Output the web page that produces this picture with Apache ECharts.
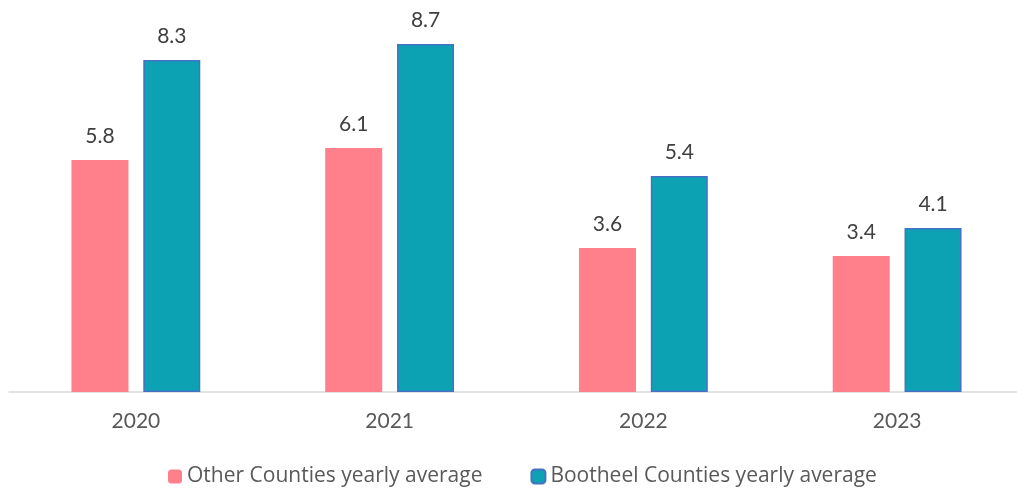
<!DOCTYPE html>
<html>
<head>
<meta charset="utf-8">
<script src="https://cdn.jsdelivr.net/npm/echarts@6/dist/echarts.min.js"></script>
<style>
  html, body { margin: 0; padding: 0; background: #fff; }
  #chart { width: 1017px; height: 491px; }
</style>
</head>
<body>
<div id="chart"></div>
<script>
// years on the x axis
var years = ['2020', '2021', '2022', '2023'];
// yearly averages
var otherAvg = [5.8, 6.1, 3.6, 3.4];
var bootheelAvg = [8.3, 8.7, 5.4, 4.1];
var seriesNames = ['Other Counties yearly average', 'Bootheel Counties yearly average'];

var myChart = echarts.init(document.getElementById('chart'));
var labelStyle = {
  show: true,
  position: 'top',
  distance: 13,
  color: '#404040',
  fontSize: 21,
  fontFamily: 'Lato'
};
var option = {
  animation: false,
  grid: { left: 9, width: 1015, top: 32, bottom: 99, outerBoundsMode: 'none' },
  legend: {
    top: 461,
    left: 163,
    itemWidth: 14,
    itemHeight: 14,
    itemGap: 48,
    textStyle: { color: '#595959', fontSize: 21, fontFamily: 'Open Sans' },
    data: seriesNames
  },
  xAxis: {
    type: 'category',
    data: years,
    axisLine: { lineStyle: { color: '#d9d9d9', width: 1.5 } },
    axisTick: { show: false },
    axisLabel: { color: '#595959', fontSize: 21, fontFamily: 'Lato', margin: 19 }
  },
  yAxis: {
    type: 'value',
    min: 0,
    max: 9,
    show: false
  },
  series: [
    {
      name: seriesNames[0],
      type: 'bar',
      data: otherAvg,
      barWidth: 57,
      barGap: '26%',
      itemStyle: { color: '#ff7f8a' },
      label: labelStyle
    },
    {
      name: seriesNames[1],
      type: 'bar',
      data: bootheelAvg,
      barWidth: 57,
      itemStyle: { color: '#0ca2b3', borderColor: '#4472c4', borderWidth: 1.5 },
      label: labelStyle
    }
  ]
};
myChart.setOption(option);
</script>
</body>
</html>
